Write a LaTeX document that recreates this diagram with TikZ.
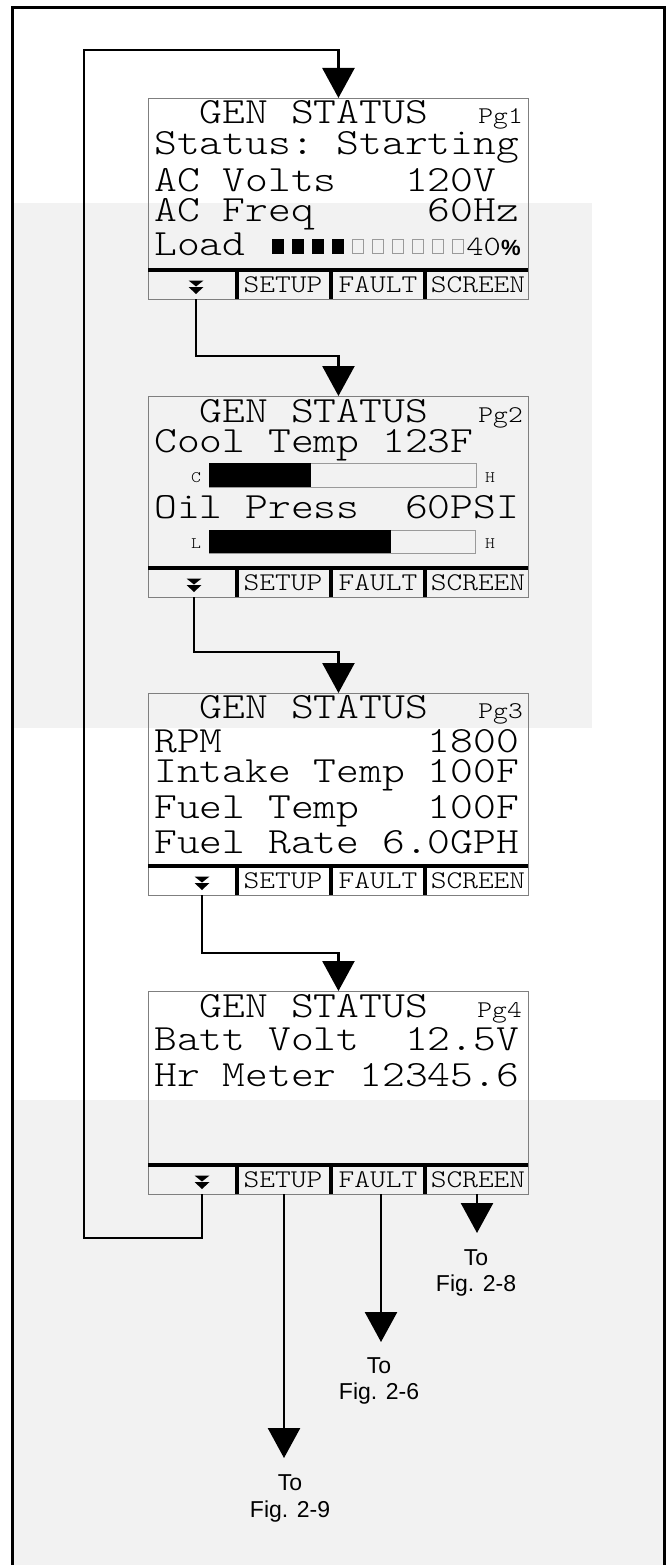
\documentclass[tikz,border=0pt]{standalone}
\usepackage{fontspec}
\usetikzlibrary{arrows.meta}
\newfontfamily\lcd{lmmonolt10-regular}[Extension=.otf,FakeStretch=1.174]
\newfontfamily\hv{Liberation Sans}
\definecolor{bggray}{HTML}{F2F2F2}
\definecolor{boxgray}{HTML}{7F7F7F}
\definecolor{cellgray}{HTML}{9A9A9A}
\tikzset{
  screen/.style={draw=boxgray, line width=0.9pt, minimum width=380pt, anchor=north west, inner sep=0pt},
  conn/.style={line width=2.6pt, -{Triangle[width=32pt,length=30pt]}},
  thick bar/.style={line width=4pt},
  row/.style={anchor=base west, inner sep=0pt, text height=23pt, text depth=4pt, font=\lcd\fontsize{37}{37}\selectfont},
  pg/.style={anchor=base east, inner sep=0pt, text height=15pt, text depth=3pt, font=\lcd\fontsize{24}{24}\selectfont},
  softkey/.style={anchor=base, inner sep=0pt, text height=16pt, text depth=2pt, font=\lcd\fontsize{25.5}{25.5}\selectfont},
  tiny/.style={anchor=base, inner sep=0pt, font=\lcd\fontsize{16}{16}\selectfont},
  tolabel/.style={anchor=base, inner sep=0pt, text height=16pt, text depth=4pt, font=\hv\fontsize{23}{23}\selectfont},
}
\newcommand\lcdkeys[3]{% #1 box name, #2 bottom y, #3 chevron x
  \draw[thick bar] (148,#2-29.5) -- (528,#2-29.5);
  \foreach \sx in {237,331,425} \draw[thick bar] (\sx,#2-29.5) -- (\sx,#2);
  \fill (#3-7.5,#2-18.5) -- (#3+7.5,#2-18.5) -- (#3,#2-12.5) -- cycle;
  \fill (#3-7.5,#2-12) -- (#3+7.5,#2-12) -- (#3,#2-5) -- cycle;
  \node[softkey] (#1setup) at (283,#2-7) {SETUP};
  \node[softkey] (#1fault) at (378,#2-7) {FAULT};
  \node[softkey] (#1screen) at (478,#2-7) {SCREEN};
  \coordinate (#1chev) at (#3,#2);
}
\begin{document}
\begin{tikzpicture}[x=1pt,y=-1pt]
\useasboundingbox (0,0) rectangle (667,1565);
\clip (0,0) rectangle (667,1565);
% watermark-like background tint
\fill[bggray] (12,203) rectangle (592,728);
\fill[bggray] (12,1100) rectangle (664,1600);
% outer frame
\draw[line width=3pt] (12.5,1600) -- (12.5,7.5) -- (664,7.5) -- (664,1600);

% ---------- Screen 1 ----------
\node[screen, minimum height=201pt] (b1) at (148,98) {};
\node[row] (b1t) at (154,124) {~~GEN~STATUS};
\node[pg] (b1p) at (523,124) {Pg1};
\node[row] (b1r1) at (154,155) {Status:~Starting};
\node[row] (b1r2) at (154,192) {AC~Volts~~~120V};
\node[row] (b1r3) at (154,222) {AC~Freq~~~~~60Hz};
\node[row] (b1r4) at (154,255) {Load};
\foreach \i in {0,...,3} \fill (272+20*\i,238.5) rectangle ++(11.5,15.5);
\foreach \i in {4,...,9} \draw[cellgray, line width=0.8pt] (272.5+20*\i,239) rectangle ++(10.5,14.5);
\node[anchor=base east, inner sep=0pt, text height=17pt, text depth=1pt, font=\lcd\fontsize{28}{28}\selectfont] (b1n) at (501,255) {40};
\node[anchor=base west, inner sep=0pt, text height=17pt, text depth=1pt, font=\hv\bfseries\fontsize{22}{22}\selectfont] (b1pc) at (b1n.base east) {\%};
\lcdkeys{b1}{299}{196}

% ---------- Screen 2 ----------
\node[screen, minimum height=201pt] (b2) at (148,396) {};
\node[row] (b2t) at (154,422) {~~GEN~STATUS};
\node[pg] (b2p) at (523,422) {Pg2};
\node[row] (b2r1) at (154,452) {Cool~Temp~123F};
\draw[cellgray, line width=0.9pt] (209,463) rectangle (476,487);
\fill (209,463) rectangle (311,487);
\node[tiny] (b2c) at (196,482) {C};
\node[tiny] (b2h1) at (490,482) {H};
\node[row] (b2r2) at (154,518) {Oil~Press~~60PSI};
\draw[cellgray, line width=0.9pt] (209,530) rectangle (475,553);
\fill (209,530) rectangle (391,553);
\node[tiny] (b2l) at (196,548) {L};
\node[tiny] (b2h2) at (490,548) {H};
\lcdkeys{b2}{597}{194}

% ---------- Screen 3 ----------
\node[screen, minimum height=202pt] (b3) at (148,693) {};
\node[row] (b3t) at (154,718) {~~GEN~STATUS};
\node[pg] (b3p) at (523,718) {Pg3};
\node[row] (b3r1) at (154,752) {RPM~~~~~~~~~1800};
\node[row] (b3r2) at (154,782) {Intake~Temp~100F};
\node[row] (b3r3) at (154,818) {Fuel~Temp~~~100F};
\node[row] (b3r4) at (154,853) {Fuel~Rate~6.0GPH};
\lcdkeys{b3}{895}{202}

% ---------- Screen 4 ----------
\node[screen, minimum height=203pt] (b4) at (148,991) {};
\node[row] (b4t) at (154,1017) {~~GEN~STATUS};
\node[pg] (b4p) at (522,1017) {Pg4};
\node[row] (b4r1) at (154,1050) {Batt~Volt~~12.5V};
\node[row] (b4r2) at (154,1086) {Hr~Meter~12345.6};
\lcdkeys{b4}{1194}{202}

% ---------- connectors ----------
\draw[conn] (b1chev) -- ++(0,57) -| (b2.north);
\draw[conn] (b2chev) -- ++(0,55) -| (b3.north);
\draw[conn] (b3chev) -- ++(0,58) -| (b4.north);
\draw[conn] (b4chev) -- ++(0,44) -| (84,50) -| (b1.north);

% ---------- exits ----------
\coordinate (setupout) at (284,1194);
\coordinate (setupend) at (284,1458);
\coordinate (faultout) at (381,1194);
\coordinate (faultend) at (381,1342);
\coordinate (screenout) at (477,1194);
\coordinate (screenend) at (477,1233);
\draw[conn] (setupout) -- (setupend);
\draw[conn] (faultout) -- (faultend);
\draw[conn] (screenout) -- (screenend);
\node[tolabel] (to9a) at (290,1490) {To};
\node[tolabel] (to9b) at (290,1517.5) {Fig. 2-9};
\node[tolabel] (to6a) at (379,1373) {To};
\node[tolabel] (to6b) at (379,1399.5) {Fig. 2-6};
\node[tolabel] (to8a) at (476,1265) {To};
\node[tolabel] (to8b) at (476,1291.5) {Fig. 2-8};
\end{tikzpicture}
\end{document}
